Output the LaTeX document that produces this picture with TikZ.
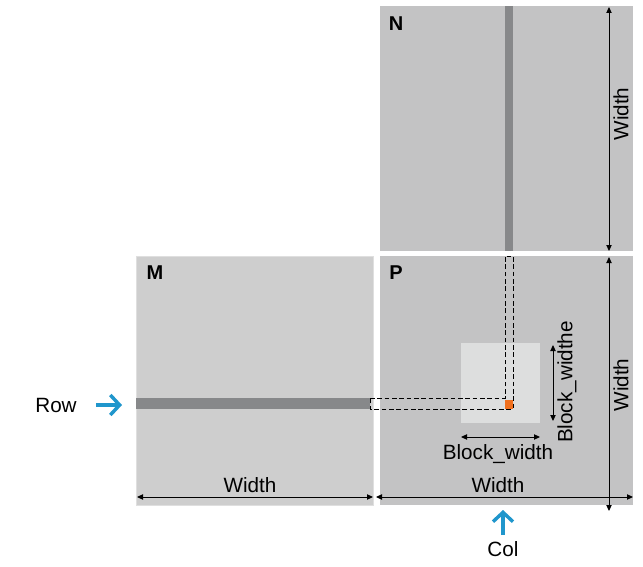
\documentclass[tikz,border=0pt]{standalone}
\usepackage{fontspec}
\setmainfont{Liberation Sans}
\usepackage{xcolor}
\usetikzlibrary{arrows.meta}

\definecolor{matgray}{RGB}{195,195,196}
\definecolor{mgray}{RGB}{206,206,206}
\definecolor{bargray}{RGB}{135,136,138}
\definecolor{blkgray}{RGB}{221,222,222}
\definecolor{hitdot}{RGB}{240,112,30}
\definecolor{cueblue}{RGB}{32,150,204}

\begin{document}
\begin{tikzpicture}[x=0.75pt,y=-0.75pt,
  mat/.style ={fill=matgray},
  matm/.style={fill=mgray,draw=gray!25,line width=0.6pt},
  bar/.style ={fill=bargray},
  dim/.style ={{Triangle[length=4.5pt,width=4pt]}-{Triangle[length=4.5pt,width=4pt]},line width=0.7pt},
  trace/.style={dashed,dash pattern=on 3.5pt off 2pt,line width=0.7pt},
  cue/.style ={-{Straight Barb[length=7pt,width=15pt,line width=2.6pt]},cueblue,line width=2.6pt},
  lbl/.style ={font=\fontsize{15.5}{18}\selectfont,inner sep=1pt},
  tag/.style ={font=\fontsize{15}{18}\selectfont\bfseries,inner sep=0pt}
]
\useasboundingbox (0,0) rectangle (643,567);

%% Matrices
\fill[mat]  (380,6)   rectangle (633,251);
\fill[mat]  (380,256) rectangle (633,505);
\filldraw[matm] (136,256) rectangle (373,505);

%% Row / column strips and output block
\fill[bar] (505,6)   rectangle (513,251);
\fill[bar] (136,398) rectangle (370,409);
\fill[blkgray] (461,343) rectangle (540,423);

%% Dot product trace
\draw[trace] (370,398) -- (505,398) -- (505,256) -- (513,256) -- (513,409) -- (370,409) -- cycle;
\fill[hitdot] (505,400) rectangle (513,409);

\node[tag] (N) at (396,24)  {N};
\node[tag] (M) at (155,273) {M};
\node[tag] (P) at (396,273) {P};

%% Dimension arrows
\coordinate (nt) at (609,7);   \coordinate (nb) at (609,251);
\coordinate (pt) at (609,257); \coordinate (pb) at (609,511);
\coordinate (ml) at (137,497); \coordinate (mr) at (373,497);
\coordinate (pl) at (376,497); \coordinate (pr) at (633,497);
\coordinate (bl) at (461,437); \coordinate (br) at (540,437);
\coordinate (bt) at (553,345); \coordinate (bb) at (553,421);

\draw[dim] (nt) -- (nb);
\draw[dim] (pt) -- (pb);
\draw[dim] (ml) -- (mr);
\draw[dim] (pl) -- (pr);
\draw[dim] (bl) -- (br);
\draw[dim] (bt) -- (bb);

\node[lbl,rotate=90] (nw) at (621,114) {Width};
\node[lbl,rotate=90] (pw) at (621,385) {Width};
\node[lbl] (mw) at (250,485) {Width};
\node[lbl] (pwb) at (498,485) {Width};
\node[lbl] (bw) at (498,454) {Block\_width};
\node[lbl,rotate=90] (bh) at (567,382) {Block\_widthe};

%% Row / Col cues
\node[lbl] (row) at (56,405) {Row};
\node[lbl] (col) at (503,549) {Col};
\coordinate (rowtail) at (96,405);  \coordinate (rowtip) at (122,405);
\coordinate (coltail) at (503,535); \coordinate (coltip) at (503,510);
\draw[cue] (rowtail) -- (rowtip);
\draw[cue] (coltail) -- (coltip);
\end{tikzpicture}
\end{document}
